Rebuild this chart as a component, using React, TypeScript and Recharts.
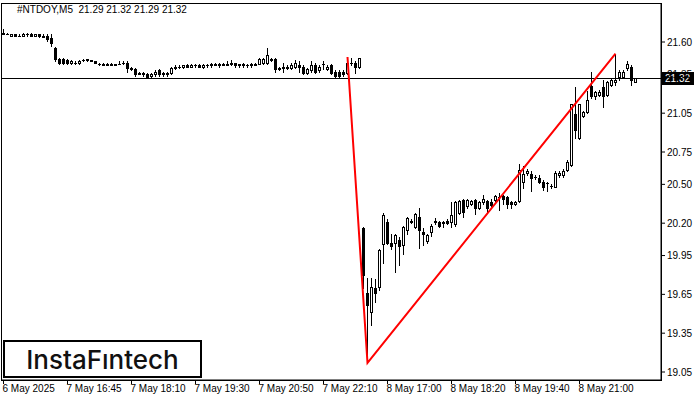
import React from "react";
import { ComposedChart, Bar, Line, XAxis, YAxis, ReferenceLine, ReferenceArea } from "recharts";

// M5 bars, left to right
const opens = [
  21.67, 21.66, 21.65, 21.66, 21.65, 21.65, 21.66, 21.66, 21.65, 21.66,
  21.65, 21.65, 21.63, 21.55, 21.47, 21.47, 21.46, 21.44, 21.44, 21.44,
  21.46, 21.46, 21.46, 21.45, 21.43, 21.43, 21.42, 21.43, 21.42, 21.43,
  21.44, 21.44, 21.40, 21.39, 21.36, 21.36, 21.35, 21.34, 21.35, 21.38,
  21.36, 21.35, 21.36, 21.40, 21.41, 21.41, 21.42, 21.41, 21.42, 21.42,
  21.41, 21.42, 21.42, 21.43, 21.42, 21.43, 21.42, 21.43, 21.44, 21.42,
  21.43, 21.42, 21.42, 21.43, 21.43, 21.44, 21.44, 21.46, 21.47, 21.40,
  21.41, 21.41, 21.40, 21.41, 21.42, 21.41, 21.36, 21.38, 21.42, 21.38,
  21.43, 21.39, 21.42, 21.37, 21.37, 21.37, 21.36, 21.44, 21.44, 21.41,
  20.16, 19.66, 19.51, 19.70, 19.71, 20.04, 20.21, 20.05, 20.05, 20.07,
  20.03, 20.15, 20.22, 20.17, 20.25, 20.13, 20.06, 20.13, 20.21, 20.21,
  20.20, 20.22, 20.21, 20.19, 20.28, 20.38, 20.33, 20.35, 20.38, 20.32,
  20.36, 20.37, 20.36, 20.38, 20.40, 20.41, 20.40, 20.36, 20.35, 20.37,
  20.52, 20.59, 20.58, 20.56, 20.55, 20.52, 20.51, 20.49, 20.48, 20.57,
  20.57, 20.61, 20.65, 21.04, 20.86, 21.03, 21.06, 21.26, 21.18, 21.19,
  21.25, 21.19, 21.27, 21.29, 21.33, 21.33, 21.40, 21.41, 21.29,
];
const highs = [
  21.70, 21.67, 21.66, 21.66, 21.66, 21.67, 21.67, 21.67, 21.66, 21.66,
  21.66, 21.66, 21.66, 21.56, 21.48, 21.48, 21.47, 21.46, 21.45, 21.46,
  21.47, 21.47, 21.46, 21.45, 21.44, 21.44, 21.44, 21.44, 21.43, 21.45,
  21.45, 21.45, 21.41, 21.40, 21.37, 21.37, 21.36, 21.36, 21.38, 21.39,
  21.37, 21.37, 21.41, 21.42, 21.42, 21.42, 21.43, 21.43, 21.43, 21.43,
  21.43, 21.43, 21.44, 21.44, 21.44, 21.44, 21.45, 21.46, 21.44, 21.43,
  21.44, 21.43, 21.44, 21.44, 21.48, 21.48, 21.55, 21.48, 21.48, 21.41,
  21.44, 21.42, 21.44, 21.46, 21.45, 21.42, 21.40, 21.45, 21.44, 21.42,
  21.45, 21.42, 21.43, 21.38, 21.38, 21.38, 21.484, 21.48, 21.45, 21.48,
  20.17, 19.78, 19.78, 19.77, 20.00, 20.28, 20.23, 20.12, 20.12, 20.09,
  20.18, 20.25, 20.23, 20.28, 20.32, 20.16, 20.12, 20.19, 20.24, 20.22,
  20.22, 20.23, 20.36, 20.37, 20.38, 20.39, 20.39, 20.38, 20.39, 20.37,
  20.42, 20.38, 20.39, 20.42, 20.43, 20.42, 20.41, 20.37, 20.37, 20.66,
  20.64, 20.62, 20.60, 20.57, 20.57, 20.53, 20.52, 20.50, 20.60, 20.60,
  20.62, 20.69, 21.12, 21.25, 21.12, 21.07, 21.22, 21.37, 21.22, 21.23,
  21.31, 21.30, 21.32, 21.51, 21.38, 21.38, 21.45, 21.42, 21.32,
];
const lows = [
  21.66, 21.66, 21.65, 21.65, 21.65, 21.65, 21.65, 21.65, 21.65, 21.64,
  21.64, 21.61, 21.57, 21.45, 21.43, 21.43, 21.43, 21.43, 21.43, 21.43,
  21.45, 21.45, 21.45, 21.44, 21.42, 21.42, 21.42, 21.42, 21.42, 21.43,
  21.43, 21.37, 21.38, 21.34, 21.35, 21.34, 21.32, 21.33, 21.34, 21.34,
  21.34, 21.34, 21.35, 21.39, 21.40, 21.40, 21.41, 21.41, 21.41, 21.41,
  21.40, 21.41, 21.41, 21.42, 21.41, 21.42, 21.42, 21.42, 21.41, 21.41,
  21.41, 21.41, 21.41, 21.42, 21.43, 21.43, 21.43, 21.45, 21.37, 21.38,
  21.37, 21.39, 21.39, 21.40, 21.37, 21.35, 21.35, 21.37, 21.36, 21.37,
  21.39, 21.38, 21.35, 21.33, 21.33, 21.34, 21.35, 21.42, 21.36, 21.40,
  19.70, 19.12, 19.41, 19.59, 19.68, 19.89, 20.04, 20.00, 19.82, 19.88,
  19.96, 20.12, 20.20, 20.16, 20.01, 20.03, 20.05, 20.10, 20.19, 20.17,
  20.17, 20.19, 20.17, 20.18, 20.27, 20.25, 20.32, 20.34, 20.27, 20.31,
  20.35, 20.29, 20.33, 20.37, 20.30, 20.35, 20.32, 20.32, 20.34, 20.36,
  20.47, 20.57, 20.45, 20.54, 20.51, 20.46, 20.45, 20.47, 20.48, 20.56,
  20.56, 20.60, 20.64, 20.86, 20.85, 21.02, 21.05, 21.17, 21.16, 21.18,
  21.10, 21.18, 21.26, 21.27, 21.31, 21.32, 21.38, 21.27, 21.29,
];
const closes = [
  21.66, 21.66, 21.66, 21.65, 21.65, 21.66, 21.66, 21.65, 21.66, 21.65,
  21.64, 21.62, 21.59, 21.47, 21.44, 21.44, 21.44, 21.45, 21.44, 21.45,
  21.46, 21.47, 21.45, 21.44, 21.43, 21.42, 21.43, 21.42, 21.43, 21.43,
  21.44, 21.40, 21.39, 21.35, 21.35, 21.35, 21.33, 21.35, 21.37, 21.35,
  21.35, 21.36, 21.40, 21.41, 21.41, 21.42, 21.41, 21.42, 21.42, 21.41,
  21.42, 21.42, 21.43, 21.42, 21.43, 21.42, 21.43, 21.44, 21.42, 21.43,
  21.42, 21.42, 21.43, 21.42, 21.47, 21.47, 21.50, 21.47, 21.39, 21.39,
  21.40, 21.40, 21.42, 21.44, 21.41, 21.36, 21.39, 21.42, 21.37, 21.41,
  21.43, 21.41, 21.36, 21.34, 21.34, 21.35, 21.44, 21.44, 21.41, 21.48,
  19.80, 19.57, 19.71, 19.66, 19.99, 20.26, 20.05, 20.02, 20.11, 20.02,
  20.17, 20.24, 20.21, 20.27, 20.15, 20.12, 20.11, 20.18, 20.22, 20.18,
  20.21, 20.20, 20.26, 20.36, 20.37, 20.29, 20.38, 20.37, 20.32, 20.36,
  20.39, 20.32, 20.34, 20.41, 20.40, 20.39, 20.35, 20.35, 20.36, 20.61,
  20.58, 20.60, 20.55, 20.56, 20.52, 20.48, 20.51, 20.49, 20.59, 20.59,
  20.60, 20.67, 21.12, 20.92, 21.12, 21.06, 21.15, 21.18, 21.21, 21.21,
  21.18, 21.29, 21.31, 21.31, 21.37, 21.37, 21.43, 21.31, 21.32,
];

// pattern line: bar index and price of each corner
const patternBars = [86, 91, 153];
const patternPrices = [21.484, 19.12, 21.51];

const timeTickBars = [0, 16, 32, 48, 64, 80, 96, 112, 128, 144];
const timeTickLabels = [
  "6 May 2025", "7 May 16:45", "7 May 18:10", "7 May 19:30", "7 May 20:50",
  "7 May 22:10", "8 May 17:00", "8 May 18:20", "8 May 19:40", "8 May 21:00",
];
const priceTicks = [19.05, 19.35, 19.65, 19.95, 20.2, 20.5, 20.75, 21.05, 21.35, 21.6];
const lastPrice = 21.32;
const title = "#NTDOY,M5  21.29 21.32 21.29 21.32";

const X_MIN = -0.625;
const X_MAX = 164.375;
const Y_MIN = 18.9882;
const Y_MAX = 21.9014;
const FONT = "'Liberation Sans', Arial, sans-serif";

const data = opens.map((o, i) => {
  const k = patternBars.indexOf(i);
  return { i, o, h: highs[i], l: lows[i], c: closes[i], red: k >= 0 ? patternPrices[k] : undefined };
});

function Candle(props: any) {
  const { x, y, width, height, payload } = props;
  if (!payload) return null;
  const { o, h, l, c } = payload;
  const cx = Math.round(x + width / 2 - 0.5) + 0.5;
  const top = Math.min(y, y + height);
  const span = Math.abs(height);
  const k = h > l ? span / (h - l) : 0;
  const py = (v: number) => top + (h - v) * k;
  const b1 = Math.round(py(Math.max(o, c)));
  const b2 = Math.round(py(Math.min(o, c)));
  const wick = (
    <line x1={cx} x2={cx} y1={Math.round(top)} y2={Math.round(top + span) + 1} stroke="#000" strokeWidth={1} />
  );
  if (b2 - b1 < 1) {
    return (
      <g shapeRendering="crispEdges">
        {wick}
        <line x1={cx - 1.5} x2={cx + 1.5} y1={b1 + 0.5} y2={b1 + 0.5} stroke="#000" strokeWidth={1} />
      </g>
    );
  }
  if (c >= o) {
    return (
      <g shapeRendering="crispEdges">
        {wick}
        <rect x={cx - 1} y={b1 + 0.5} width={2} height={Math.max(b2 - b1, 1)} fill="#fff" stroke="#000" strokeWidth={1} />
      </g>
    );
  }
  return (
    <g shapeRendering="crispEdges">
      {wick}
      <rect x={cx - 1.5} y={b1} width={3} height={b2 - b1 + 1} fill="#000" />
    </g>
  );
}

function TimeTick(props: any) {
  const { x, y, payload } = props;
  const idx = timeTickBars.indexOf(payload.value);
  return (
    <text x={x - 1} y={y + 8} textAnchor="start" fontSize={10} fontFamily={FONT} fill="#000">
      {idx >= 0 ? timeTickLabels[idx] : ""}
    </text>
  );
}

function PriceBox(props: any) {
  const vb = props.viewBox;
  if (!vb) return null;
  const bx = vb.x + vb.width + 1;
  const by = Math.round(vb.y) - 6;
  return (
    <g>
      <rect x={bx} y={by} width={32} height={13} fill="#000" />
      <text x={bx + 3} y={by + 10} fontSize={10} fontFamily={FONT} fill="#fff">
        {lastPrice.toFixed(2)}
      </text>
    </g>
  );
}

export default function App() {
  return (
    <div style={{ position: "absolute", left: 0, top: 0, width: 700, height: 400, background: "#fff" }}>
      <ComposedChart width={700} height={400} data={data} margin={{ top: 3, right: 0, left: 1, bottom: 0 }}>
        <XAxis
          dataKey="i"
          type="number"
          domain={[X_MIN, X_MAX]}
          ticks={timeTickBars}
          interval={0}
          height={20}
          tickSize={4}
          tickMargin={0}
          axisLine={{ stroke: "#000" }}
          tickLine={{ stroke: "#000" }}
          tick={<TimeTick />}
          allowDataOverflow
        />
        <YAxis
          orientation="right"
          type="number"
          width={39}
          domain={[Y_MIN, Y_MAX]}
          ticks={priceTicks}
          interval={0}
          tickSize={4}
          tickMargin={2}
          axisLine={{ stroke: "#000" }}
          tickLine={{ stroke: "#000" }}
          tick={{ fill: "#000", fontSize: 10, fontFamily: FONT }}
          tickFormatter={(v: number) => v.toFixed(2)}
          allowDataOverflow
        />
        <ReferenceArea x1={X_MIN} x2={X_MAX} y1={Y_MIN} y2={Y_MAX} fill="none" stroke="#000" shapeRendering="crispEdges" />
        <ReferenceLine y={lastPrice} stroke="#000" strokeWidth={1} shapeRendering="crispEdges" label={<PriceBox />} />
        <Bar dataKey={(d: any) => [d.l, d.h]} barSize={3} shape={<Candle />} isAnimationActive={false} />
        <Line
          dataKey="red"
          type="linear"
          stroke="#ff0000"
          strokeWidth={2}
          dot={false}
          activeDot={false}
          connectNulls
          isAnimationActive={false}
        />
      </ComposedChart>
      <div
        style={{
          position: "absolute",
          left: 17,
          top: 4,
          fontSize: 10,
          lineHeight: "12px",
          fontFamily: FONT,
          color: "#000",
          whiteSpace: "pre",
        }}
      >
        {title}
      </div>
      <div
        style={{
          position: "absolute",
          left: 3,
          top: 340,
          width: 199,
          height: 38,
          boxSizing: "border-box",
          border: "2px solid #000",
          background: "#fff",
          display: "flex",
          alignItems: "center",
          justifyContent: "center",
          fontFamily: "Inter, sans-serif",
          fontWeight: 500,
          fontSize: 26,
          color: "#111",
        }}
      >
        InstaFıntech
      </div>
    </div>
  );
}
